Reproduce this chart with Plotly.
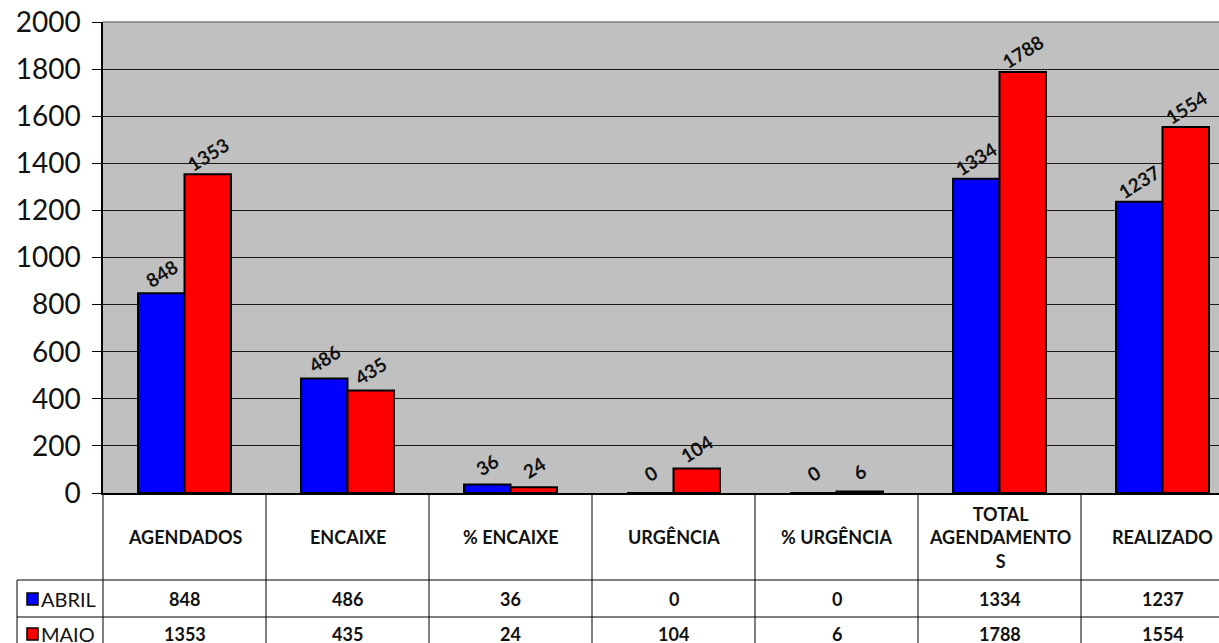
import plotly.graph_objects as go

categories = ["AGENDADOS", "ENCAIXE", "% ENCAIXE", "URGÊNCIA", "% URGÊNCIA",
              "TOTAL<br>AGENDAMENTO<br>S", "REALIZADO"]
series_names = ["ABRIL", "MAIO"]
abril = [848, 486, 36, 0, 0, 1334, 1237]
maio = [1353, 435, 24, 104, 6, 1788, 1554]
colors = ["#0000FF", "#FF0000"]
y_ticks = [0, 200, 400, 600, 800, 1000, 1200, 1400, 1600, 1800, 2000]

W, H = 1219, 643
L, T, B = 103, 22, 150
plot_w = W - L
plot_h = H - T - B

def py(p):  # pixel y -> paper y
    return (H - B - p) / plot_h

def px(p):  # pixel x -> paper x
    return (p - L) / plot_w

bargap = 0.43
bw = (1 - bargap) / 2
xs = list(range(len(categories)))

fig = go.Figure()
for name, vals, col in [(series_names[0], abril, colors[0]), (series_names[1], maio, colors[1])]:
    fig.add_trace(go.Bar(x=xs, y=vals, name=name, marker=dict(color=col, line=dict(color="black", width=2)),
                         showlegend=False))

ann = []
# data labels
for vals, sgn in [(abril, -1), (maio, 1)]:
    for i, v in enumerate(vals):
        ann.append(dict(x=i + sgn * bw / 2, y=v, xref="x", yref="y", text=f"<b>{v}</b>",
                        showarrow=False, textangle=-32, yshift=20,
                        font=dict(family="Lato", size=19, color="#111")))

# table header
for i, c in enumerate(categories):
    ann.append(dict(x=i, y=py(537), xref="x", yref="paper", text=f"<b>{c}</b>", showarrow=False,
                    font=dict(family="Lato", size=18, color="#111"), yanchor="middle"))
    ann.append(dict(x=i, y=py(599), xref="x", yref="paper", text=f"<b>{abril[i]}</b>", showarrow=False,
                    font=dict(family="Lato", size=18, color="#111"), yanchor="middle"))
    ann.append(dict(x=i, y=py(634), xref="x", yref="paper", text=f"<b>{maio[i]}</b>", showarrow=False,
                    font=dict(family="Lato", size=18, color="#111"), yanchor="middle"))

for name, yc in [(series_names[0], 599), (series_names[1], 634)]:
    ann.append(dict(x=px(39), y=py(yc), xref="paper", yref="paper", text=name, showarrow=False,
                    xanchor="left", yanchor="middle", font=dict(family="Lato", size=20, color="#111")))

shapes = []
# legend keys
for col, yc in [(colors[0], 599), (colors[1], 634)]:
    shapes.append(dict(type="rect", xref="paper", yref="paper", x0=px(27), x1=px(38),
                       y0=py(yc - 6), y1=py(yc + 6), fillcolor=col, line=dict(color="black", width=1.5)))
# table lines
for yl in [580, 617]:
    shapes.append(dict(type="line", xref="paper", yref="paper", x0=px(17), x1=1.02, y0=py(yl), y1=py(yl),
                       line=dict(color="black", width=1)))
shapes.append(dict(type="line", xref="paper", yref="paper", x0=px(17), x1=px(17), y0=py(580), y1=py(650),
                   line=dict(color="black", width=1)))
shapes.append(dict(type="line", xref="paper", yref="paper", x0=0, x1=0, y0=0, y1=py(650),
                   line=dict(color="black", width=1)))
for i in range(len(categories) - 1):
    shapes.append(dict(type="line", xref="x", yref="paper", x0=i + 0.5, x1=i + 0.5, y0=0, y1=py(650),
                       line=dict(color="black", width=1)))
# top border
shapes.append(dict(type="line", xref="paper", yref="paper", x0=0, x1=1, y0=1, y1=1,
                   line=dict(color="#808080", width=1.5)))

fig.update_layout(
    width=W, height=H,
    margin=dict(l=L, r=0, t=T, b=B),
    barmode="group", bargap=bargap, bargroupgap=0,
    plot_bgcolor="#C0C0C0", paper_bgcolor="white",
    xaxis=dict(range=[-0.5, -0.5 + plot_w / 163.0], showticklabels=False, showgrid=False, zeroline=False,
               showline=True, linecolor="black", linewidth=1.5, ticks=""),
    yaxis=dict(range=[0, 2000], tickvals=y_ticks, showgrid=True, gridcolor="#1a1a1a", gridwidth=1,
               zeroline=False, showline=True, linecolor="black", linewidth=1.5, ticks="outside",
               ticklen=9, tickcolor="black", tickfont=dict(family="Lato", size=28, color="#111"),
               ticklabelstandoff=6),
    annotations=ann, shapes=shapes,
)
fig.write_html("out.html", config={"displayModeBar": False},
               post_script="document.body.style.margin='0';document.body.style.overflow='hidden';")
